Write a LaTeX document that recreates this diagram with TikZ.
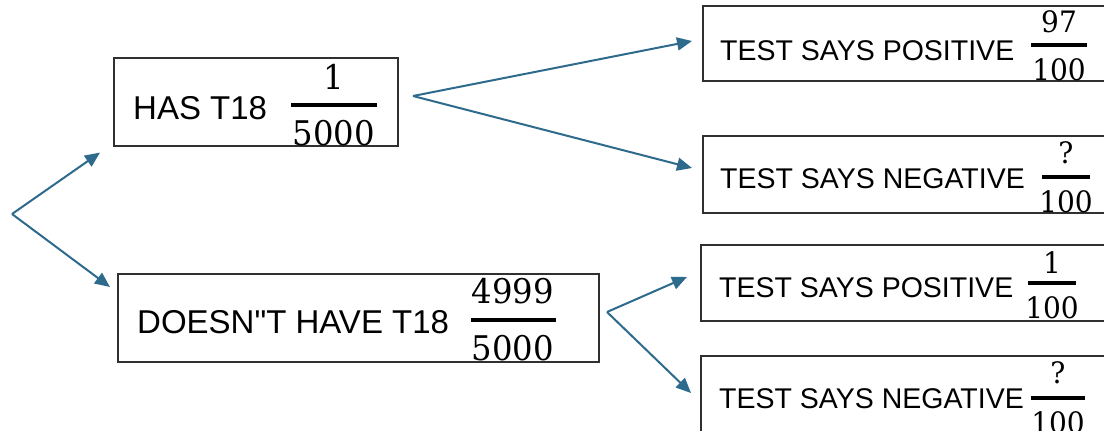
\documentclass[tikz,border=0pt]{standalone}
\usepackage{fontspec}
\newfontfamily\arialf{Liberation Sans}
\newfontfamily\numf[FakeStretch=0.95]{DejaVu Serif}
\usetikzlibrary{arrows.meta,calc}
\definecolor{arrc}{HTML}{2E6A8C}
\definecolor{boxc}{HTML}{303030}
\tikzset{
  box/.style={draw=boxc, line width=1.6pt, rectangle, inner sep=0pt, anchor=north west},
  bigtxt/.style={font=\arialf\fontsize{33}{36}\selectfont, anchor=base west, inner sep=0pt},
  smtxt/.style={font=\arialf\fontsize{28.5}{32}\selectfont, anchor=base west, inner sep=0pt},
  bignum/.style={font=\numf\fontsize{34}{36}\selectfont, anchor=base, inner sep=0pt},
  smnum/.style={font=\numf\fontsize{29.5}{32}\selectfont, anchor=base, inner sep=0pt},
  bigbar/.style={line width=3.5pt, black},
  smbar/.style={line width=3.2pt, black},
  arr/.style={draw=arrc, line width=2pt, -{Triangle[length=15pt,width=13pt]}},
}
\begin{document}
\begin{tikzpicture}[x=1pt,y=-1pt]
\useasboundingbox (0,0) rectangle (1104,431);
\clip (0,0) rectangle (1104,431);
\fill[white] (0,0) rectangle (1104,431);

% boxes
\node[box, minimum width=284pt, minimum height=88pt] (hbox) at (113,57) {};
\node[box, minimum width=481pt, minimum height=88pt] (dbox) at (117,273) {};
\node[box, minimum width=420pt, minimum height=75pt] (p1) at (702,5) {};
\node[box, minimum width=420pt, minimum height=77pt] (p2) at (702,135) {};
\node[box, minimum width=420pt, minimum height=76pt] (p3) at (700,244) {};
\node[box, minimum width=420pt, minimum height=90pt] (p4) at (700,355) {};

% left upper
\node[bigtxt] (htxt) at (133,119) {HAS T18};
\node[bignum] (hnum) at (334,89) {1};
\draw[bigbar] (291,105) -- (377,105);
\node[bignum] (hden) at (334,145) {5000};

% left lower
\node[bigtxt] (dtxt) at (137,333) {DOESN"T HAVE T18};
\node[bignum] (dnum) at (513,303) {4999};
\draw[bigbar] (471,320) -- (556,320);
\node[bignum] (dden) at (513,360) {5000};

% right 1
\node[smtxt] (t1) at (720,60) {TEST SAYS POSITIVE};
\node[smnum] (n1) at (1059,32) {97};
\draw[smbar] (1031,45) -- (1087,45);
\node[smnum] (d1) at (1059,80) {100};

% right 2
\node[smtxt] (t2) at (720,188) {TEST SAYS NEGATIVE};
\node[smnum] (n2) at (1066,163) {?};
\draw[smbar] (1042,177) -- (1090,177);
\node[smnum] (d2) at (1066,212) {100};

% right 3
\node[smtxt] (t3) at (719,297) {TEST SAYS POSITIVE};
\node[smnum] (n3) at (1052,273) {1};
\draw[smbar] (1028,283) -- (1076,283);
\node[smnum] (d3) at (1052,318) {100};

% right 4
\node[smtxt] (t4) at (719,408) {TEST SAYS NEGATIVE};
\node[smnum] (n4) at (1058,383) {?};
\draw[smbar] (1031,398) -- (1085,398);
\node[smnum] (d4) at (1058,433) {100};

% connectors
\coordinate (root) at (12,214);
\coordinate (hout) at (413,96);
\coordinate (dout) at (607,312);
\draw[arr] (root) -- ($(hbox.south west)+(-13,6)$);
\draw[arr] (root) -- ($(dbox.north west)+(-7,14)$);
\draw[arr] (hout) -- ($(p1.north west)+(-10,36)$);
\draw[arr] (hout) -- ($(p2.north west)+(-10,33)$);
\draw[arr] (dout) -- ($(p3.north west)+(-13,33)$);
\draw[arr] (dout) -- ($(p4.north west)+(-9,38)$);
\end{tikzpicture}
\end{document}
